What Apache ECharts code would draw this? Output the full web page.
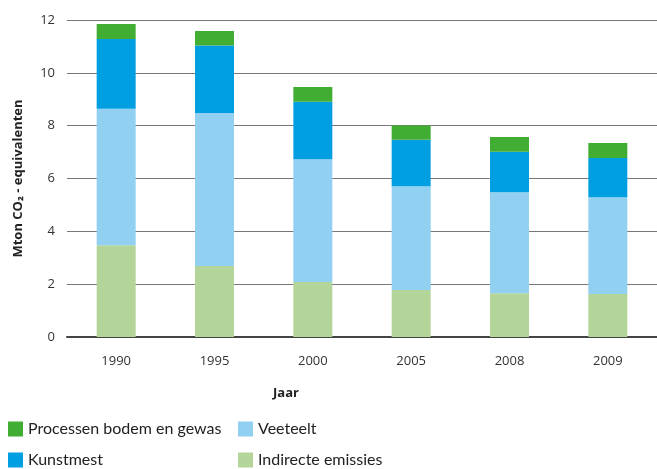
<!DOCTYPE html>
<html>
<head>
<meta charset="utf-8">
<script src="https://cdn.jsdelivr.net/npm/echarts@6/dist/echarts.min.js"></script>
<style>
  html, body { margin: 0; padding: 0; background: #fff; }
  #chart { width: 657px; height: 469px; }
</style>
</head>
<body>
<div id="chart"></div>
<script>
// jaren en waarden (Mton CO2-eq)
const years = ["1990", "1995", "2000", "2005", "2008", "2009"];
const indirecte = [3.47, 2.69, 2.08, 1.78, 1.66, 1.63];
const veeteelt = [5.17, 5.79, 4.65, 3.93, 3.82, 3.66];
const kunstmest = [2.64, 2.55, 2.18, 1.76, 1.53, 1.49];
const processen = [0.57, 0.55, 0.55, 0.54, 0.56, 0.56];

const font = "'Open Sans', sans-serif";
const chart = echarts.init(document.getElementById("chart"));

function bar(name, data, color) {
  return {
    name: name,
    type: "bar",
    stack: "totaal",
    data: data,
    barWidth: 39,
    itemStyle: { color: color },
    emphasis: { disabled: true }
  };
}

const legendText = { color: "#222", fontSize: 16, fontFamily: "Lato, sans-serif", lineHeight: 16 };

function legend(left, names) {
  return {
    orient: "vertical",
    left: left,
    top: 421,
    height: 60,
    padding: 0,
    itemWidth: 15,
    itemHeight: 15,
    itemGap: 15,
    icon: "rect",
    textStyle: legendText,
    data: names
  };
}

chart.setOption({
  animation: false,
  grid: { left: 67, top: 20, width: 594, height: 317 },
  xAxis: {
    type: "category",
    data: years,
    axisTick: { show: false },
    axisLine: { lineStyle: { color: "#444", width: 2 } },
    axisLabel: { color: "#333", fontSize: 13, fontFamily: font, margin: 18 }
  },
  yAxis: {
    type: "value",
    min: 0,
    max: 12,
    interval: 2,
    name: "Mton CO₂ - equivalenten",
    nameLocation: "middle",
    nameGap: 42,
    nameTextStyle: { color: "#222", fontSize: 13, fontWeight: "bold", fontFamily: font },
    axisLabel: { color: "#333", fontSize: 13, fontFamily: font, margin: 12 },
    splitLine: { lineStyle: { color: "#777", width: 1 } }
  },
  legend: [
    legend(8, ["Processen bodem en gewas", "Kunstmest"]),
    legend(238, ["Veeteelt", "Indirecte emissies"])
  ],
  graphic: [
    {
      type: "text",
      left: 273,
      top: 387,
      style: { text: "Jaar", fill: "#222", font: "bold 13px " + font }
    }
  ],
  series: [
    bar("Indirecte emissies", indirecte, "#b3d59a"),
    bar("Veeteelt", veeteelt, "#92d0f2"),
    bar("Kunstmest", kunstmest, "#009fe2"),
    bar("Processen bodem en gewas", processen, "#42ad33")
  ]
});
</script>
</body>
</html>
